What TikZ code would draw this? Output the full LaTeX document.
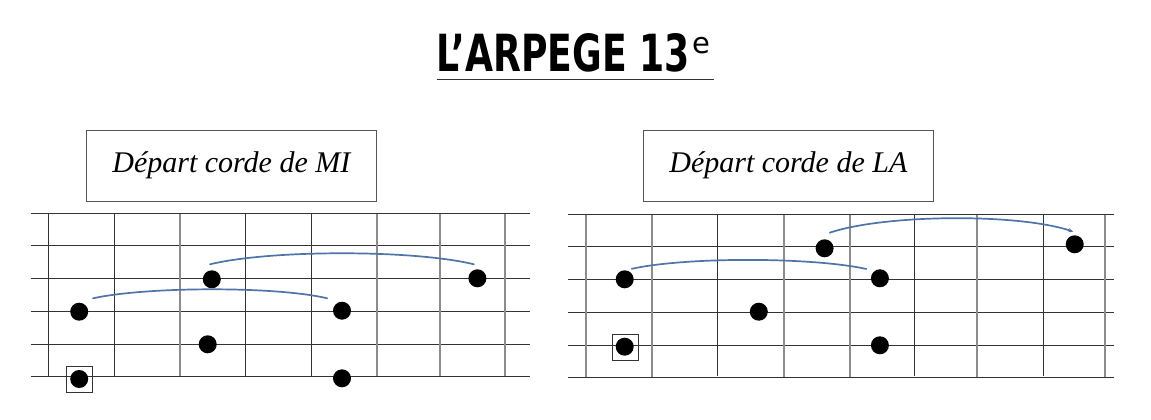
\documentclass[tikz,border=0pt]{standalone}
\usepackage{fontspec}
\setmainfont{Liberation Serif}
\newfontfamily\titlefont{DejaVu Sans}
\usetikzlibrary{arrows.meta}
\definecolor{gridDark}{HTML}{333333}
\definecolor{gridGray}{HTML}{8C8C8C}
\definecolor{slurBlue}{HTML}{4F74A8}
\definecolor{boxLine}{HTML}{555555}
\tikzset{
  dot/.style={circle,fill=black,inner sep=0pt,minimum size=18pt},
  rootsq/.style={draw=gridDark,line width=1pt,inner sep=0pt,minimum width=25.5pt,minimum height=26pt},
  labelbox/.style={draw=boxLine,line width=1pt,minimum width=290.7pt,minimum height=71pt,inner sep=0pt,font=\fontsize{30}{34}\selectfont\itshape},
  darkline/.style={draw=gridDark,line width=1.3pt},
  grayline/.style={draw=gridGray,line width=2pt},
  slur/.style={draw=slurBlue,line width=1.7pt,line cap=round},
}
\begin{document}
\begin{tikzpicture}[x=1pt,y=-1pt]
\useasboundingbox[fill=white] (0,0) rectangle (1151,420);
% title
\node[anchor=base west,inner sep=0pt] (title) at (436.7,71)
  {\resizebox{253pt}{38pt}{\titlefont\bfseries L’ARPEGE 13}};
\node[anchor=base west,inner sep=0pt,font=\titlefont\fontsize{29}{30}\selectfont] (titlesup) at (692,53.3) {e};
\draw[draw=gridDark,line width=1.2pt] (436.7,79.5) -- (714.3,79.5);
% label boxes
\node[labelbox] (boxmi) at (231.35,165.5) {Départ corde de MI};
\node[labelbox] (boxla) at (788.35,165.5) {Départ corde de LA};
% left grid
\foreach \y in {213.5,245.5,278.5,311.5,344.5,376.5}
  \draw[darkline] (30.5,\y) -- (529.5,\y);
\foreach \x in {48.5,114.5,245.5,311.5}
  \draw[darkline] (\x,213.5) -- (\x,376);
\foreach \x in {180,377,440,505}
  \draw[grayline] (\x,213.5) -- (\x,376);
% right grid
\foreach \y in {214.5,246.5,279.5,312.5,345.5,377.5}
  \draw[darkline] (567.5,\y) -- (1113.5,\y);
\foreach \x in {717.5,914.5,1043.5}
  \draw[darkline] (\x,214.5) -- (\x,376);
\foreach \x in {586,652,784,850,977,1105}
  \draw[grayline] (\x,214.5) -- (\x,377);
% left dots
\node[dot] (l1) at (79.2,311.7) {};
\node[dot] (l2) at (211.8,279.3) {};
\node[dot] (l3) at (477.4,278.3) {};
\node[dot] (l4) at (342,310.7) {};
\node[dot] (l5) at (207.7,344.3) {};
\node[dot] (l6) at (79.2,379) {};
\node[dot] (l7) at (342,378.3) {};
\node[rootsq] (lsq) at (79.5,379.2) {};
% right dots
\node[dot] (r1) at (624.7,279.3) {};
\node[dot] (r2) at (824.6,248.3) {};
\node[dot] (r3) at (879.9,278.3) {};
\node[dot] (r4) at (1074.7,244.3) {};
\node[dot] (r5) at (758.8,311.7) {};
\node[dot] (r6) at (624.7,346.7) {};
\node[dot] (r7) at (879.9,345.3) {};
\node[rootsq] (rsq) at (625.5,347.3) {};
% slurs
\draw[slur] ([xshift=13.8pt,yshift=13.4pt]l1.center) .. controls +(55,-12) and +(-50,-12) .. ([xshift=-14.8pt,yshift=12.4pt]l4.center);
\draw[slur] ([xshift=-1.7pt,yshift=15pt]l2.center) .. controls +(60,-14.7) and +(-60,-14.7) .. ([xshift=-3.5pt,yshift=14pt]l3.center);
\draw[slur] ([xshift=7pt,yshift=10.5pt]r1.center) .. controls +(55,-12) and +(-55,-12) .. ([xshift=-13.5pt,yshift=9.3pt]r3.center);
\draw[slur,-{Stealth[length=5pt,width=4pt]}] ([xshift=5.1pt,yshift=15.6pt]r2.center) .. controls +(55,-18.5) and +(-55,-18.5) .. ([xshift=-1.4pt,yshift=12.6pt]r4.center);
\end{tikzpicture}
\end{document}
